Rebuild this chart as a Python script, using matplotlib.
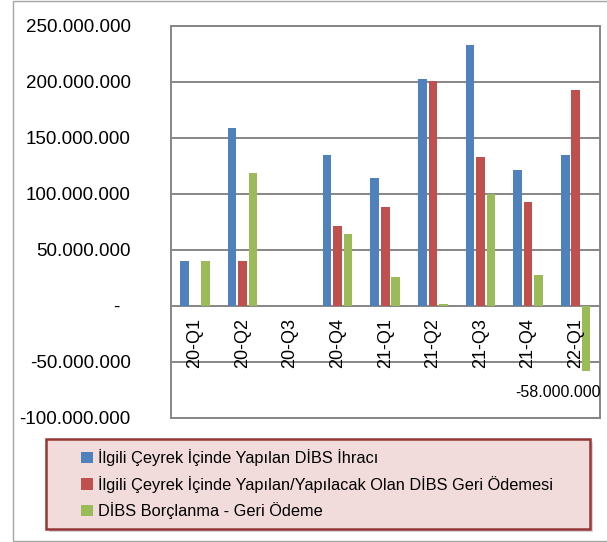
import matplotlib
matplotlib.use("Agg")
import matplotlib.pyplot as plt
import numpy as np
from matplotlib.patches import Rectangle, Patch
from matplotlib.ticker import FuncFormatter

plt.rcParams['font.family'] = ['Liberation Sans', 'DejaVu Sans']

# data (millions TL)
quarters = ['20-Q1', '20-Q2', '20-Q3', '20-Q4', '21-Q1', '21-Q2', '21-Q3', '21-Q4', '22-Q1']
ihrac = [40, 159, 0, 135, 114, 203, 233, 121, 135]
geri_odeme = [0, 40, 0, 71, 88, 201, 133, 93, 193]
net = [40, 119, 0, 64, 26, 2, 100, 28, -58]
labels = ['İlgili Çeyrek İçinde Yapılan DİBS İhracı',
          'İlgili Çeyrek İçinde Yapılan/Yapılacak Olan DİBS Geri Ödemesi',
          'DİBS Borçlanma - Geri Ödeme']
colors = ['#4F81BD', '#C0504D', '#9BBB59']

ihrac = np.array(ihrac) * 1e6
geri_odeme = np.array(geri_odeme) * 1e6
net = np.array(net) * 1e6

fig = plt.figure(figsize=(6.07, 5.42), dpi=100)
ax = fig.add_axes([171/607, 1 - 418/542, (599.5 - 171)/607, (418 - 26)/542])

x = np.arange(len(quarters))
off = 0.22
w = 0.18
for i, (vals, c) in enumerate(zip([ihrac, geri_odeme, net], colors)):
    ax.bar(x + (i - 1) * off, vals, w, color=c, linewidth=0, zorder=3)

ax.set_xlim(-0.5, len(quarters) - 0.5)
ax.set_ylim(-100e6, 250e6)
ax.set_yticks(np.arange(-100e6, 250e6 + 1, 50e6))


def fmt(v, pos):
    if v == 0:
        return '-  '
    return f'{int(v):,}'.replace(',', '.')


ax.yaxis.set_major_formatter(FuncFormatter(fmt))
ax.tick_params(axis='y', length=0, pad=29, labelsize=13.5)
ax.set_xticks([])
ax.grid(axis='y', color='#868686', linewidth=1.4, zorder=1)
for s in ax.spines.values():
    s.set_color('#868686')
    s.set_linewidth(1.4)

for i, q in enumerate(quarters):
    ax.annotate(q, (i, 0), xytext=(0, -12), textcoords='offset pixels',
                rotation=90, ha='center', va='top', fontsize=13)

ax.annotate(f'{int(net[-1]):,}'.replace(',', '.'), (8 + off, net[-1]),
            xytext=(-28, -22), textcoords='offset pixels',
            ha='center', va='center', fontsize=11.5)

# outer frame
fig.patches.append(Rectangle((13/607, 1/542), 1, 540/542, transform=fig.transFigure,
                             fill=False, edgecolor='#A6A6A6', linewidth=1))

# legend box with shadow
lx0, ly0, lx1, ly1 = 46, 439, 590, 529
fig.patches.append(Rectangle(((lx0 + 3)/607, 1 - (ly1 + 3)/542), (lx1 - lx0)/607, (ly1 - ly0)/542,
                             transform=fig.transFigure, facecolor='#BBBBBB', edgecolor='none', alpha=0.6))
fig.patches.append(Rectangle((lx0/607, 1 - ly1/542), (lx1 - lx0)/607, (ly1 - ly0)/542,
                             transform=fig.transFigure, facecolor='#F2DCDB', edgecolor='#953735', linewidth=1.8))

handles = [Patch(facecolor=c, linewidth=0) for c in colors]
fig.legend(handles, labels, loc='upper left', bbox_to_anchor=(68/607, 1 - 436/542),
           frameon=False, fontsize=11.8, handlelength=0.7, handleheight=0.7,
           handletextpad=0.35, labelspacing=0.58, borderpad=0.3)

fig.savefig('out.png', dpi=100)
